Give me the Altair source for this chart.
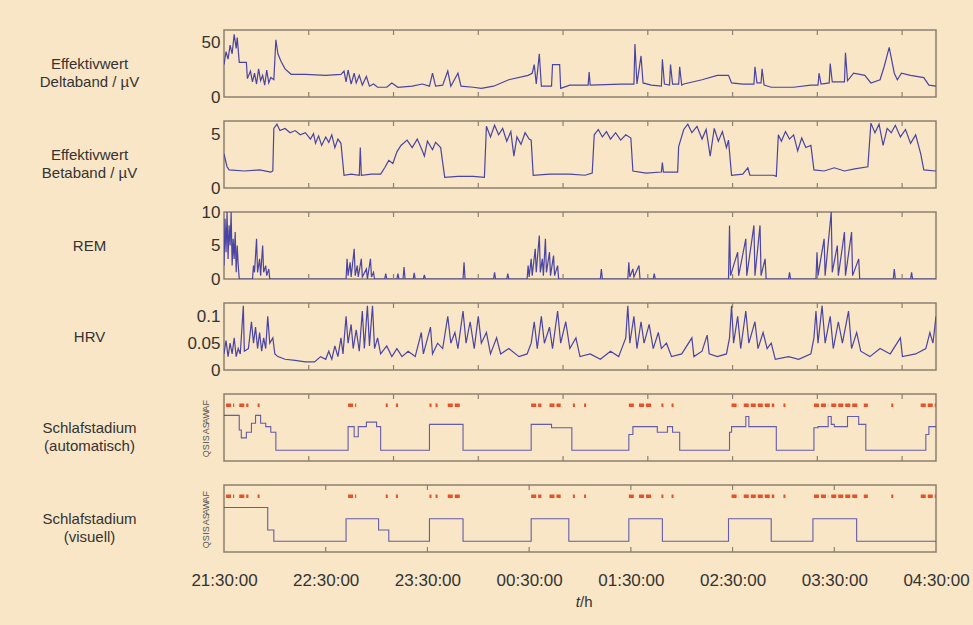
import altair as alt
import pandas as pd

# ---------------- data (time in hours after 21:30:00) ----------------
delta_t = [0.00,0.02,0.04,0.06,0.08,0.10,0.12,0.13,0.15,0.22,0.23,0.26,0.28,0.30,0.32,0.34,0.36,0.38,0.40,0.42,
           0.44,0.46,0.49,0.51,0.53,0.56,0.60,0.66,0.80,1.00,1.15,1.18,1.20,1.22,1.25,1.28,1.30,1.33,1.36,1.40,
           1.43,1.47,1.51,1.60,1.65,1.71,1.85,1.95,2.02,2.05,2.08,2.15,2.20,2.23,2.30,2.33,2.45,2.53,2.65,2.80,
           2.99,3.03,3.05,3.07,3.10,3.12,3.22,3.23,3.30,3.31,3.40,3.58,3.59,3.60,3.90,4.03,4.04,4.06,4.10,4.12,
           4.20,4.30,4.31,4.33,4.38,4.39,4.41,4.47,4.48,4.50,4.52,4.70,4.85,4.96,4.99,5.10,5.21,5.22,5.24,5.28,
           5.29,5.31,5.38,5.60,5.77,5.84,5.85,5.87,5.95,5.96,5.98,6.10,6.11,6.13,6.19,6.30,6.36,6.45,6.49,6.54,
           6.59,6.62,6.66,6.75,6.88,6.93,7.00]
delta_v = [30,42,35,48,40,58,45,55,32,32,17,24,14,22,12,26,15,20,11,25,
           13,18,16,53,40,33,26,21,21,20,21,24,14,25,12,22,13,20,11,19,
           10,12,9,9,13,9,10,12,10,22,10,11,24,10,22,10,9,8,10,16,
           20,22,30,12,40,10,10,30,30,8,11,11,23,11,12,12,49,12,38,13,
           11,10,35,12,11,30,12,12,28,11,12,16,20,20,13,12,12,28,13,13,
           26,11,9,9,11,11,22,12,13,31,14,14,41,15,22,20,13,16,28,46,
           22,16,22,20,18,11,10]

beta_t = [0.00,0.01,0.03,0.05,0.20,0.35,0.46,0.48,0.49,0.52,0.55,0.60,0.65,0.70,0.75,0.80,0.85,0.88,0.90,0.93,
          0.96,1.00,1.03,1.06,1.09,1.12,1.15,1.18,1.25,1.33,1.34,1.35,1.45,1.54,1.58,1.62,1.66,1.70,1.74,1.80,
          1.85,1.90,1.95,1.97,2.00,2.05,2.08,2.13,2.17,2.30,2.45,2.56,2.58,2.62,2.66,2.70,2.74,2.78,2.82,2.85,
          2.88,2.92,2.96,3.00,3.02,3.04,3.20,3.40,3.55,3.62,3.64,3.68,3.72,3.76,3.80,3.85,3.90,3.95,4.00,4.02,
          4.15,4.30,4.31,4.32,4.46,4.47,4.52,4.56,4.60,4.65,4.70,4.74,4.78,4.82,4.86,4.90,4.94,4.96,4.99,5.10,
          5.15,5.17,5.40,5.43,5.45,5.48,5.52,5.56,5.60,5.64,5.68,5.72,5.77,5.80,5.90,6.00,6.10,6.20,6.33,6.36,
          6.40,6.44,6.48,6.52,6.56,6.60,6.65,6.70,6.75,6.80,6.85,6.88,7.00]
beta_v = [3.2,2.8,2.0,1.7,1.6,1.7,1.5,1.6,5.6,6.0,5.4,5.6,5.2,5.4,5.0,5.2,4.6,5.1,4.2,4.9,
          4.0,4.8,4.3,5.0,3.8,4.6,4.2,1.2,1.3,1.2,3.8,1.2,1.3,1.3,1.9,2.6,2.3,3.4,4.0,4.5,
          3.8,4.6,3.5,3.0,4.4,3.6,4.3,3.8,1.0,1.1,1.1,1.0,5.8,4.8,5.9,5.0,5.6,4.4,5.3,3.0,
          4.8,4.1,5.2,4.6,4.5,1.2,1.3,1.3,1.2,1.4,5.0,5.5,4.8,5.3,4.6,5.2,4.5,5.0,4.7,1.6,
          1.4,1.5,2.4,1.5,1.5,3.9,5.5,6.0,5.2,5.8,4.6,5.5,3.0,5.6,4.4,5.3,3.8,4.5,1.2,1.3,
          1.9,1.2,1.2,1.1,5.0,4.4,5.3,4.6,5.0,3.5,4.7,3.8,4.0,1.7,1.6,1.9,1.6,1.8,2.0,6.1,
          5.2,6.0,4.0,5.6,5.2,5.9,4.8,5.5,4.2,5.0,3.2,1.7,1.6]

rem_t = [0.00,0.01,0.02,0.03,0.04,0.05,0.06,0.07,0.08,0.09,0.10,0.11,0.12,0.13,0.14,0.15,
         0.28,0.29,0.30,0.32,0.33,0.35,0.36,0.38,0.39,0.41,0.42,0.44,0.45,
         1.20,1.21,1.22,1.24,1.25,1.28,1.29,1.31,1.32,1.35,1.36,1.40,1.41,1.44,1.45,1.47,1.48,
         1.58,1.59,1.60,1.70,1.71,1.72,1.76,1.77,1.78,1.86,1.87,1.88,1.96,1.97,1.98,
         2.35,2.36,2.37,2.65,2.66,2.67,2.78,2.79,2.80,
         2.98,2.99,3.00,3.02,3.03,3.06,3.07,3.10,3.11,3.13,3.14,3.16,3.17,3.20,3.21,3.24,3.25,3.28,3.29,
         3.70,3.71,3.72,3.97,3.98,3.99,4.02,4.03,4.08,4.09,4.22,4.23,4.24,
         4.96,4.97,4.98,5.05,5.06,5.13,5.14,5.21,5.22,5.27,5.28,5.32,5.33,5.55,5.56,5.57,
         5.82,5.83,5.84,5.90,5.91,5.97,5.98,6.03,6.04,6.10,6.11,6.17,6.18,6.24,6.25,
         6.58,6.59,6.60,6.75,6.76,6.77,7.00]
rem_v = [2,9,4,10,3,8,5,10,2,6,3,7,1,5,2,0,
         0,2,1,6,1,3,0.5,5,1,2,0.5,1.5,0,
         0,3,0.5,2.5,0.3,4.5,0.5,2,0.3,3,0.3,1.5,0,3,0.3,1,0,
         0,0.8,0,0,0.8,0,0,1.8,0,0,0.9,0,0,0.6,0,
         0,2.5,0,0,1,0,0,0.8,0,
         0,2,0.3,3,0.5,4.5,1,6.5,1,3,0.5,6,1,4,0.5,3.5,0.5,2,0,
         0,1.5,0,0,2.5,0.3,1.5,0.3,2,0,0,0.8,0,
         0,8,0.5,4,0.5,6,0.5,8,0.5,8,0.5,3,0,0,1,0,
         0,4,0.5,6,0.5,10,1,5,0.5,7,0.5,7,0.5,3,0,
         0,1.5,0,0,1,0,0]

hrv_t = [0.00,0.02,0.04,0.06,0.08,0.10,0.12,0.14,0.16,0.19,0.20,0.24,0.27,0.29,0.31,0.33,0.35,0.37,0.39,0.41,
         0.43,0.45,0.48,0.50,0.53,0.60,0.70,0.80,0.89,0.95,1.00,1.03,1.06,1.09,1.12,1.15,1.17,1.20,1.22,1.25,
         1.27,1.30,1.33,1.36,1.38,1.41,1.43,1.46,1.48,1.51,1.54,1.60,1.65,1.70,1.75,1.81,1.88,1.94,1.96,2.03,
         2.05,2.10,2.15,2.20,2.23,2.27,2.30,2.35,2.38,2.42,2.46,2.50,2.53,2.58,2.62,2.68,2.72,2.80,2.90,2.98,
         3.02,3.05,3.08,3.12,3.15,3.20,3.23,3.28,3.31,3.36,3.40,3.46,3.50,3.60,3.70,3.80,3.88,3.95,3.97,3.99,
         4.03,4.06,4.10,4.13,4.18,4.22,4.27,4.30,4.35,4.40,4.50,4.60,4.62,4.70,4.75,4.77,4.85,4.94,4.97,4.99,
         5.01,5.05,5.08,5.13,5.16,5.22,5.25,5.30,5.34,5.38,5.42,5.55,5.65,5.77,5.80,5.82,5.84,5.88,5.91,5.96,
         5.99,6.04,6.08,6.14,6.17,6.22,6.26,6.35,6.45,6.55,6.65,6.67,6.80,6.90,6.94,6.97,7.00]
hrv_v = [0.03,0.055,0.025,0.05,0.03,0.06,0.025,0.04,0.03,0.12,0.035,0.04,0.09,0.05,0.08,0.04,0.07,0.035,0.06,0.04,
         0.10,0.05,0.06,0.03,0.025,0.02,0.018,0.015,0.015,0.025,0.02,0.035,0.02,0.045,0.025,0.06,0.03,0.10,0.05,0.085,
         0.04,0.075,0.035,0.11,0.04,0.12,0.045,0.12,0.04,0.06,0.03,0.045,0.025,0.04,0.025,0.035,0.025,0.07,0.03,0.08,
         0.03,0.05,0.04,0.10,0.05,0.07,0.04,0.11,0.05,0.09,0.04,0.10,0.05,0.07,0.03,0.06,0.03,0.04,0.025,0.03,
         0.05,0.09,0.04,0.10,0.05,0.08,0.04,0.11,0.05,0.09,0.04,0.06,0.025,0.03,0.02,0.035,0.025,0.06,0.12,0.05,
         0.10,0.04,0.09,0.05,0.085,0.04,0.07,0.04,0.05,0.025,0.03,0.06,0.025,0.035,0.065,0.03,0.025,0.03,0.06,0.12,
         0.05,0.10,0.04,0.11,0.05,0.09,0.04,0.07,0.04,0.05,0.02,0.025,0.02,0.03,0.06,0.11,0.05,0.12,0.05,0.10,
         0.04,0.09,0.05,0.11,0.04,0.07,0.035,0.025,0.04,0.03,0.06,0.025,0.03,0.04,0.07,0.05,0.10]

# sleep stages: 1=QS, 2=IS, 3=AS, 4=AW, 5=AF (step changes)
auto_t = [0.00,0.15,0.17,0.22,0.27,0.31,0.36,0.41,0.46,0.51,1.22,1.28,1.32,1.40,1.50,1.54,2.02,2.35,3.02,3.22,
          3.42,3.98,4.02,4.26,4.36,4.41,4.48,4.97,4.99,5.13,5.16,5.43,5.80,5.84,5.94,5.97,6.00,6.13,6.24,6.31,
          6.90,6.93,7.00]
auto_s = [4.1,2.8,2.1,2.6,3.4,4.1,3.4,3.1,2.6,1.0,3.1,2.2,3.1,3.5,3.1,1.0,3.3,1.0,3.3,3.0,
          1.0,2.4,3.1,2.6,3.1,2.6,1.0,2.6,3.1,4.0,3.1,1.0,3.0,3.1,4.0,3.3,3.1,4.0,3.3,1.0,
          2.4,3.1,3.1]
vis_t = [0.00,0.43,0.49,1.20,1.52,1.62,2.02,2.35,3.02,3.39,3.98,4.31,4.96,5.38,5.79,6.22,7.00]
vis_s = [4,2,1,3,2,1,3,1,3,1,3,1,3,1,3,1,1]

# artefact (AF) marks: start / end in hours
af_start = [0.02,0.15,0.33,1.22,1.59,1.69,2.02,2.08,2.20,3.02,3.20,3.43,3.54,3.98,4.08,4.30,4.40,
            4.99,5.11,5.50,5.80,5.97,6.29,6.56,6.85]
af_end   = [0.10,0.24,0.35,1.30,1.61,1.71,2.04,2.10,2.33,3.12,3.31,3.45,3.56,4.03,4.20,4.32,4.42,
            5.06,5.41,5.52,5.94,6.23,6.33,6.58,7.00]

stage_names = ["", "QS", "IS", "AS", "AW", "AF"]
time_labels = ["21:30:00", "22:30:00", "23:30:00", "00:30:00", "01:30:00", "02:30:00", "03:30:00", "04:30:00"]
hour_ticks = [0, 1, 2, 3, 4, 5, 6, 7]
tick50 = [0.8333, 1.6667, 2.5, 3.3333, 4.1667, 5.0, 5.8333, 6.6667]

# ---------------- style ----------------
BG = "#F9E6C6"
FRAME = "#8C806E"
LINE = "#4A44A2"
RED = "#E8502A"
TXT = "#333333"
FONT = "Liberation Sans"
W, H = 712, 67

xs = alt.Scale(domain=[0, 7], nice=False, zero=False)


def xenc(field, axis):
    return alt.X(field, scale=xs, axis=axis)


def inner_ticks(positions, axis=None):
    df = pd.DataFrame({"t": positions})
    top = alt.Chart(df).mark_rule(color=FRAME, strokeWidth=1.2).encode(
        x=xenc("t:Q", axis), y=alt.value(0), y2=alt.value(5))
    bot = alt.Chart(df).mark_rule(color=FRAME, strokeWidth=1.2).encode(
        x=xenc("t:Q", axis), y=alt.value(H - 5), y2=alt.value(H))
    return [top, bot]


def yaxis(values, title, **kw):
    opts = dict(values=values, title=title, titleAngle=0, titleX=-135, titleY=H / 2,
                titleAlign="center", titleBaseline="middle", titleFontSize=15,
                titleFontWeight="normal", titleColor=TXT, titleFont=FONT, titleLineHeight=18,
                ticks=False, domain=False, grid=False, labelColor=TXT, labelFont=FONT,
                labelFontSize=17, labelPadding=4, labelOverlap=False)
    opts.update(kw)
    return alt.Axis(**opts)


def signal(t, v, dom, yvals, title):
    df = pd.DataFrame({"t": t, "v": v})
    line = alt.Chart(df).mark_line(color=LINE, strokeWidth=1.2, clip=True).encode(
        x=xenc("t:Q", None),
        y=alt.Y("v:Q", scale=alt.Scale(domain=dom, nice=False, zero=False),
                axis=yaxis(yvals, title, format="~f")))
    return alt.layer(line, *inner_ticks(tick50)).properties(width=W, height=H)


def stage(t, s, title, ticks, bottom=False):
    df = pd.DataFrame({"t": t, "s": s})
    ysc = alt.Scale(domain=[0.05, 6.0], nice=False, zero=False)
    if bottom:
        xax = alt.Axis(values=hour_ticks, labelExpr=str(time_labels) + "[datum.value]",
                       ticks=False, domain=False, grid=False, title=None, labelFontSize=17,
                       labelFont=FONT, labelColor=TXT, labelPadding=20, labelFlush=False,
                       labelOverlap=False)
    else:
        xax = None
    yax = yaxis([1, 2, 3, 4, 5], title,
                labelExpr=str(stage_names) + "[datum.value]",
                labelAngle=270, labelFontSize=9, labelPadding=14, labelColor="#555555",
                labelAlign="center", labelBaseline="bottom")
    line = alt.Chart(df).mark_line(color=LINE, strokeWidth=1.1, interpolate="step-after", opacity=0.85).encode(
        x=xenc("t:Q", xax), y=alt.Y("s:Q", scale=ysc, axis=yax))
    af = pd.DataFrame({"a": af_start, "b": af_end, "lvl": [5] * len(af_start)})
    dots = alt.Chart(af).mark_rule(color=RED, strokeWidth=3.5, strokeDash=[5, 2]).encode(
        x=xenc("a:Q", xax), x2="b:Q", y=alt.Y("lvl:Q", scale=ysc, axis=yax))
    layers = [line, dots] + inner_ticks(ticks, xax)
    if bottom:
        tl = pd.DataFrame({"t": [3.5]})
        tt = alt.Chart(tl).mark_text(text="t", fontStyle="italic", font=FONT, fontSize=15,
                                     color=TXT, align="right", baseline="middle").encode(
            x=xenc("t:Q", xax), y=alt.value(H + 50))
        th = alt.Chart(tl).mark_text(text="/h", font=FONT, fontSize=15, color=TXT,
                                     align="left", baseline="middle").encode(
            x=xenc("t:Q", xax), y=alt.value(H + 50))
        layers += [tt, th]
    return alt.layer(*layers).properties(width=W, height=H)


p1 = signal(delta_t, delta_v, [0, 62], [0, 50], ["Effektivwert", "Deltaband / µV"])
p2 = signal(beta_t, beta_v, [0, 6.3], [0, 5], ["Effektivwert", "Betaband / µV"])
p3 = signal(rem_t, rem_v, [0, 10], [0, 5, 10], "REM")
p4 = signal(hrv_t, hrv_v, [0, 0.125], [0, 0.05, 0.1], "HRV")
p5 = stage(auto_t, auto_s, ["Schlafstadium", "(automatisch)"], tick50)
p6 = stage(vis_t, vis_s, ["Schlafstadium", "(visuell)"], hour_ticks[1:-1], bottom=True)

chart = alt.vconcat(p1, p2, p3, p4, p5, p6, spacing=24, bounds="flush").configure(
    background=BG, padding={"left": 38, "top": 28, "right": 3, "bottom": 15}, font=FONT
).configure_view(stroke=FRAME, strokeWidth=1.5, fill=None)

chart.save("out.html", embed_options={"renderer": "svg", "actions": False})
